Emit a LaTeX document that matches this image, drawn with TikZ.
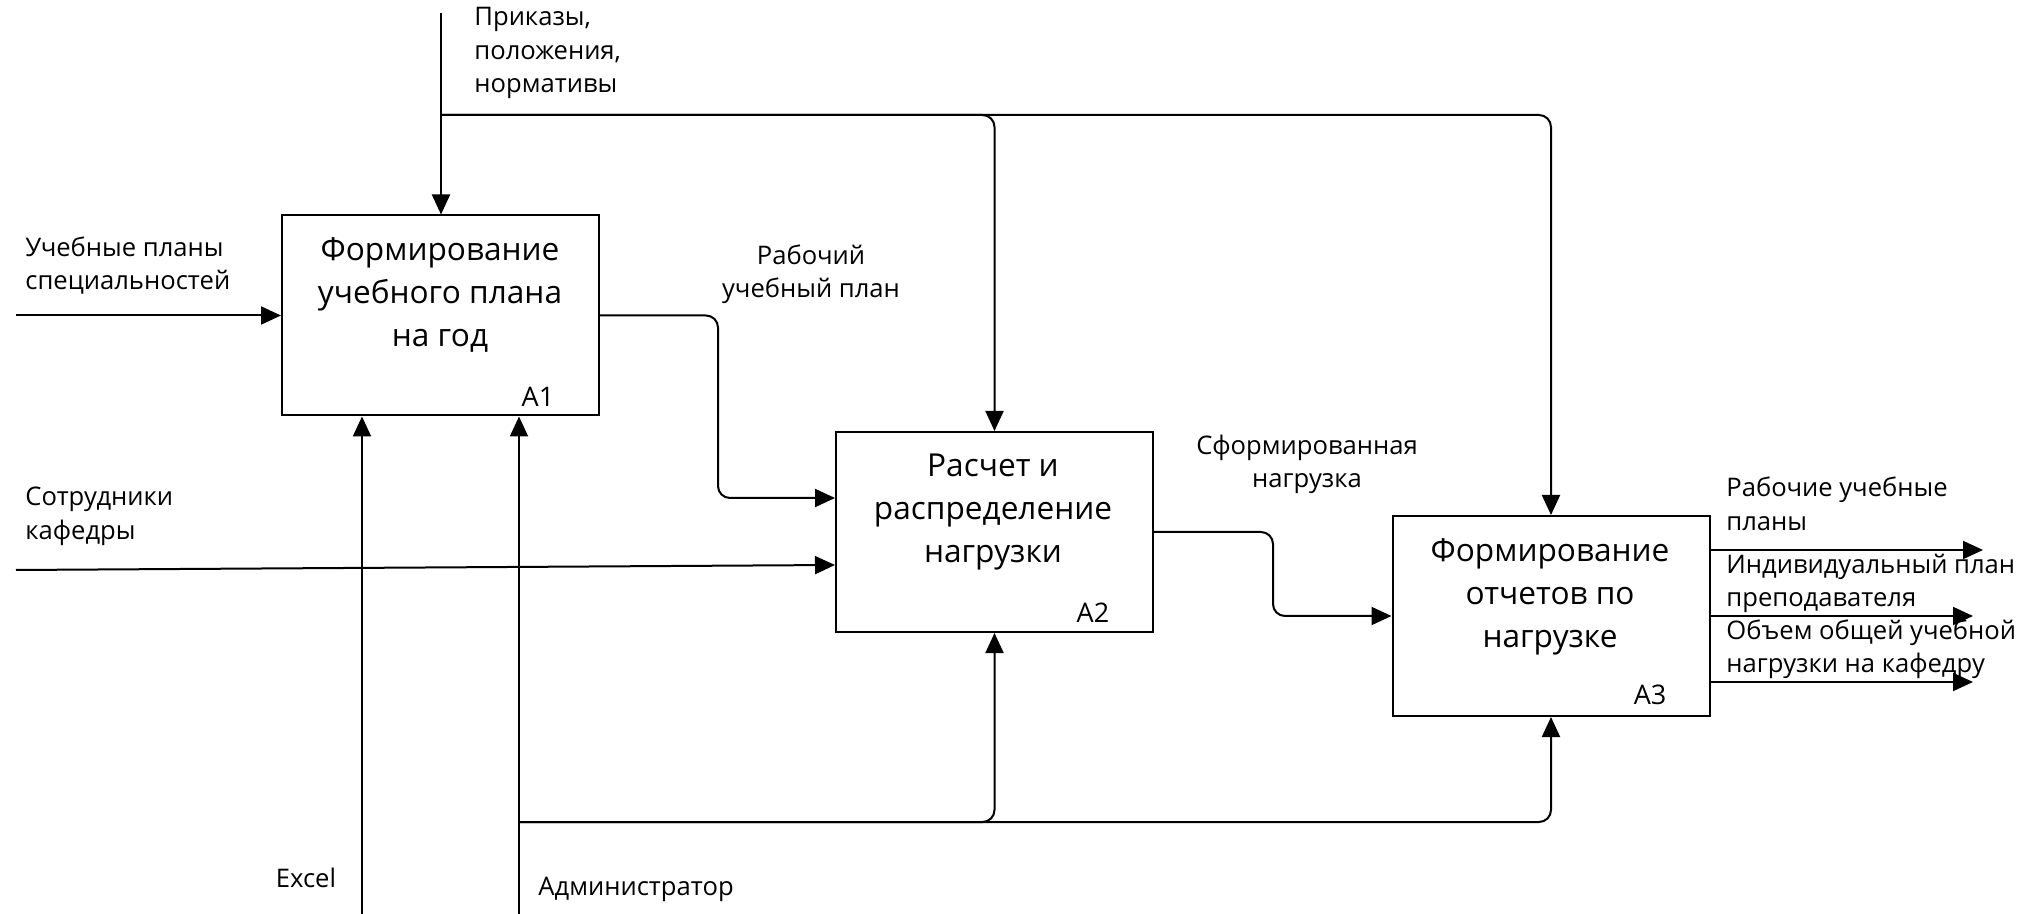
\documentclass[tikz,border=0pt]{standalone}
\usepackage{fontspec}
\setmainfont{Open Sans}
\usetikzlibrary{arrows.meta,calc}
\tikzset{
  box/.style={draw,line width=1pt,minimum width=158.5pt,minimum height=100pt,inner sep=0pt},
  btext/.style={align=center,font=\fontsize{15.8}{21.5}\selectfont,inner sep=0pt},
  lbl/.style={align=left,font=\fontsize{12.8}{16.75}\selectfont,inner sep=0pt},
  num/.style={font=\fontsize{13.5}{16}\selectfont,inner sep=0pt},
  ln/.style={line width=1pt},
  arr/.style={ln,-{Triangle[length=10pt,width=9pt]}},
  rc/.style={rounded corners=6pt}
}
\begin{document}
\begin{tikzpicture}[x=0.5pt,y=-0.5pt]
\useasboundingbox (0,0) rectangle (2036,914);
% boxes
\node[box] (A1) at (440.5,315.5) {};
\node[box] (A2) at (994.5,532) {};
\node[box] (A3) at (1551,616) {};
% box texts
\node[btext] (A1t) at (440,295) {Формирование\\учебного плана\\на год};
\node[btext] (A2t) at (993,512) {Расчет и\\распределение\\нагрузки};
\node[btext] (A3t) at (1550,597) {Формирование\\отчетов по\\нагрузке};
\node[num] (A1n) at (538,397) {A1};
\node[num] (A2n) at (1093,613) {A2};
\node[num] (A3n) at (1650,695) {A3};
% labels
\node[lbl,anchor=west] (lctl) at (474,53) {Приказы,\\положения,\\нормативы};
\node[lbl,anchor=west] (lin1) at (25,265.5) {Учебные планы\\специальностей};
\node[lbl,align=center] (lrup) at (811,274.5) {Рабочий\\учебный план};
\node[lbl,anchor=west] (lin2) at (25,516.5) {Сотрудники\\кафедры};
\node[lbl,align=center] (lsn) at (1307,464.5) {Сформированная\\нагрузка};
\node[lbl,anchor=west] (lo1) at (1726,504) {Рабочие учебные\\планы};
\node[lbl,anchor=west] (lo2) at (1726,583.5) {Индивидуальный план\\преподавателя};
\node[lbl,anchor=west] (lo3) at (1726,649.5) {Объем общей учебной\\нагрузки на кафедру};
\node[lbl] (lex) at (306,878) {Excel};
\node[lbl,anchor=west] (lad) at (538,889) {Администратор};
% coordinates
\coordinate (ctop) at (441,13);
\coordinate (cj) at (441,115);
\coordinate (i1) at (16,315.5);
\coordinate (i2) at (16,570);
\coordinate (m1) at (362,914);
\coordinate (m2) at (519,914);
\coordinate (mj) at (519,822);
\coordinate (o1) at (1983,550);
\coordinate (o2) at (1973,616);
\coordinate (o3) at (1973,682);
% controls
\draw[arr] (ctop) -- (ctop |- A1.north);
\draw[arr,rc] (cj) -- (A2.north |- cj) -- (A2.north);
\draw[arr,rc] (cj) -- (A3.north |- cj) -- (A3.north);
% inputs
\draw[arr] (i1) -- (A1.west);
\draw[arr] (i2) -- ($(A2.west)+(0,33)$);
\draw[arr,rc] (A1.east) -- ++(118,0) |- ($(A2.west)+(0,-34)$);
\draw[arr,rc] (A2.east) -- ++(119,0) |- (A3.west);
% outputs
\draw[arr] ($(A3.east)+(0,-66)$) -- (o1);
\draw[arr] (A3.east) -- (o2);
\draw[arr] ($(A3.east)+(0,66)$) -- (o3);
% mechanisms
\draw[arr] (m1) -- (m1 |- A1.south);
\draw[arr] (m2) -- (m2 |- A1.south);
\draw[arr,rc] (mj) -- (A2.south |- mj) -- (A2.south);
\draw[arr,rc] (mj) -- (A3.south |- mj) -- (A3.south);
\end{tikzpicture}
\end{document}
